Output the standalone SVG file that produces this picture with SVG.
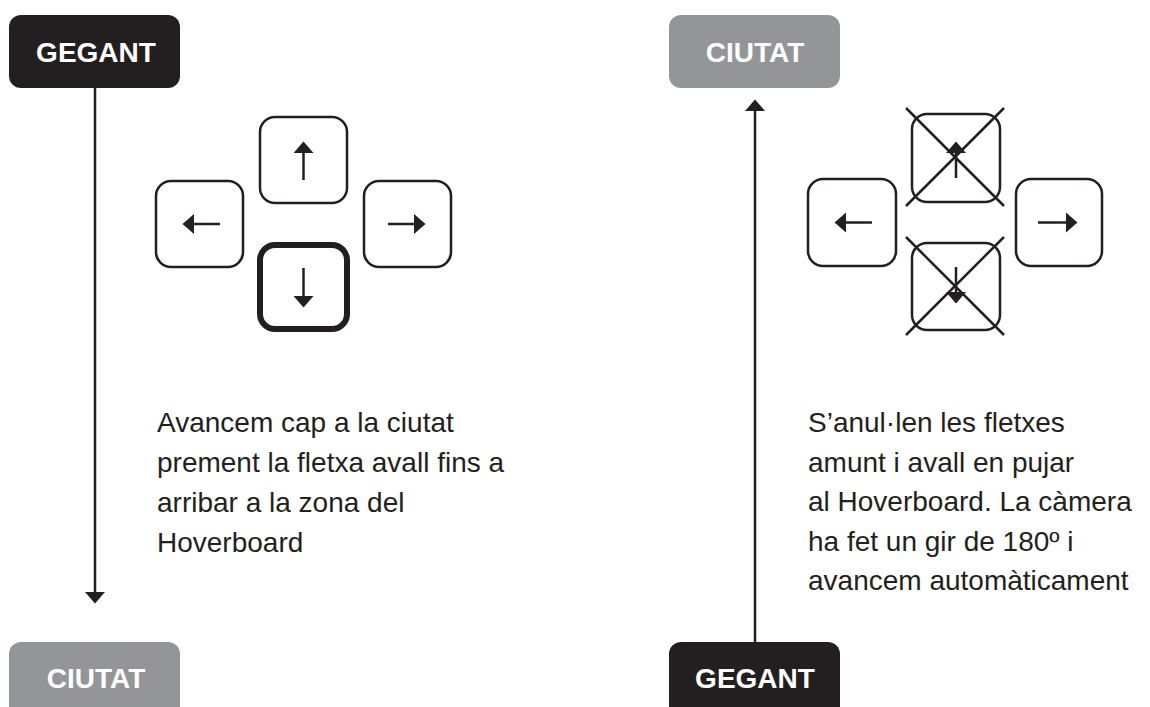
<svg xmlns="http://www.w3.org/2000/svg" width="1150" height="707" viewBox="0 0 1150 707">
<style>
.dark{fill:#231f20}
.gray{fill:#939598}
.lbl{font-family:"Liberation Sans",Arial,sans-serif;font-weight:bold;font-size:28px;fill:#ffffff;text-anchor:middle}
.body{font-family:"Liberation Sans",Arial,sans-serif;font-size:28px;fill:#231f20}
.key{fill:#ffffff;stroke:#231f20;stroke-width:2.5}
.keyb{fill:#ffffff;stroke:#231f20;stroke-width:6}
.conn{stroke:#231f20;stroke-width:2.5;fill:none;marker-end:url(#ah)}
.karr{stroke:#231f20;stroke-width:2.5;fill:none;marker-end:url(#ah)}
.cross{stroke:#231f20;stroke-width:2.5}
</style>
<defs>
<marker id="ah" markerUnits="userSpaceOnUse" markerWidth="12" markerHeight="20" refX="0" refY="10" orient="auto" viewBox="0 0 12 20">
<path d="M0,0 L11.5,10 L0,20 Z" fill="#231f20"/>
</marker>
</defs>
<rect width="1150" height="707" fill="#ffffff"/>

<g id="connectors">
<line class="conn" x1="95" y1="88" x2="95" y2="592"/>
<line class="conn" x1="755" y1="642" x2="755" y2="111"/>
</g>

<g id="gegant-left">
<rect class="dark" x="9" y="15" width="171" height="73" rx="12"/>
<text class="lbl" x="96" y="62">GEGANT</text>
</g>
<g id="ciutat-left">
<rect class="gray" x="9" y="642" width="171" height="80" rx="12"/>
<text class="lbl" x="96" y="688">CIUTAT</text>
</g>
<g id="ciutat-right">
<rect class="gray" x="669" y="15" width="171" height="73" rx="12"/>
<text class="lbl" x="755" y="62">CIUTAT</text>
</g>
<g id="gegant-right">
<rect class="dark" x="669" y="642" width="171" height="80" rx="12"/>
<text class="lbl" x="755" y="688">GEGANT</text>
</g>

<g id="keys-left">
<rect class="key" x="260" y="117" width="87" height="86" rx="15"/>
<rect class="key" x="156" y="181" width="87" height="86" rx="15"/>
<rect class="key" x="364" y="181" width="87" height="86" rx="15"/>
<rect class="keyb" x="260" y="245" width="87" height="84" rx="15"/>
<line class="karr" x1="303.5" y1="180" x2="303.5" y2="153"/>
<line class="karr" x1="303.5" y1="268" x2="303.5" y2="296"/>
<line class="karr" x1="220" y1="224" x2="194" y2="224"/>
<line class="karr" x1="388" y1="224" x2="414" y2="224"/>
</g>

<g id="keys-right">
<rect class="key" x="912" y="114" width="88" height="88" rx="15"/>
<rect class="key" x="912" y="243" width="88" height="87" rx="15"/>
<rect class="key" x="808" y="179" width="88" height="87" rx="15"/>
<rect class="key" x="1016" y="179" width="86" height="87" rx="15"/>
<line class="karr" x1="956" y1="178" x2="956" y2="153"/>
<line class="karr" x1="956" y1="267" x2="956" y2="292"/>
<line class="karr" x1="872" y1="222.5" x2="846" y2="222.5"/>
<line class="karr" x1="1038" y1="222.5" x2="1066" y2="222.5"/>
<line class="cross" x1="906" y1="108" x2="1004" y2="206"/>
<line class="cross" x1="1004" y1="108" x2="906" y2="206"/>
<line class="cross" x1="906" y1="237" x2="1004" y2="335"/>
<line class="cross" x1="1004" y1="237" x2="906" y2="335"/>
</g>

<g id="text-left">
<text class="body" x="157" y="432">Avancem cap a la ciutat</text>
<text class="body" x="157" y="472">prement la fletxa avall fins a</text>
<text class="body" x="157" y="512">arribar a la zona del</text>
<text class="body" x="157" y="552">Hoverboard</text>
</g>
<g id="text-right">
<text class="body" x="808" y="432">S’anul·len les fletxes</text>
<text class="body" x="808" y="472">amunt i avall en pujar</text>
<text class="body" x="808" y="511">al Hoverboard. La càmera</text>
<text class="body" x="808" y="551">ha fet un gir de 180º i</text>
<text class="body" x="808" y="590">avancem automàticament</text>
</g>
</svg>
